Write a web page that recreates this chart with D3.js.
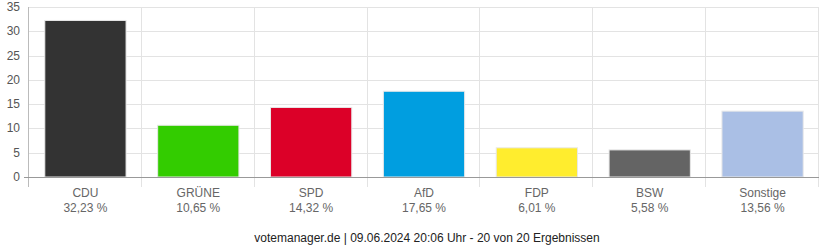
<!DOCTYPE html>
<html>
<head>
<meta charset="utf-8">
<script src="https://cdn.jsdelivr.net/npm/d3@7"></script>
<style>
  body { margin: 0; background: #fff; }
  text { font-family: "Liberation Sans", Arial, sans-serif; font-size: 12px; }
</style>
</head>
<body>
<div id="graph"></div>
<script>
"use strict"

var parties = ["CDU", "GRÜNE", "SPD", "AfD", "FDP", "BSW", "Sonstige"]
var shares = [32.23, 10.65, 14.32, 17.65, 6.01, 5.58, 13.56]
var colors = ["#333333", "#33cc00", "#dc0028", "#009ee0", "#ffed2e", "#646464", "#aabfe5"]
var yTicks = [0, 5, 10, 15, 20, 25, 30, 35]
var footer = "votemanager.de | 09.06.2024 20:06 Uhr - 20 von 20 Ergebnissen"

var width = 822, height = 250
var margin = {top: 7, left: 29, right: 3, bottom: 73}

main()

function main() {
    let svg = d3.select("#graph").append("svg")
        .attr("width", width).attr("height", height)

    let x = d3.scaleBand().domain(parties).range([margin.left, width - margin.right]).padding(0)
    let y = d3.scaleLinear().domain([0, 35]).range([height - margin.bottom, margin.top])
    let bw = x.bandwidth()

    // horizontal grid
    svg.selectAll(".hgrid").data(yTicks).enter().append("line")
        .attr("x1", margin.left).attr("x2", width - margin.right)
        .attr("y1", d => Math.round(y(d)) + 0.5).attr("y2", d => Math.round(y(d)) + 0.5)
        .attr("stroke", "#e3e3e3")

    // vertical grid at band edges, running down past the axis
    let edges = parties.map(p => x(p)).concat([width - margin.right])
    svg.selectAll(".vgrid").data(edges).enter().append("line")
        .attr("x1", d => Math.round(d) - 0.5).attr("x2", d => Math.round(d) - 0.5)
        .attr("y1", margin.top).attr("y2", y(0) + 10)
        .attr("stroke", (d, i) => i == 0 ? "#bbbbbb" : "#e3e3e3")

    svg.selectAll(".bar").data(parties).enter().append("rect")
        .attr("x", d => x(d) + bw * 0.14)
        .attr("width", bw * 0.72)
        .attr("y", (d, i) => y(shares[i]))
        .attr("height", (d, i) => y(0) - y(shares[i]))
        .attr("fill", (d, i) => colors[i])
        .attr("stroke", "#e8e8e8")
        .attr("stroke-width", 1)

    // x axis line
    svg.append("line")
        .attr("x1", margin.left - 5).attr("x2", width - margin.right)
        .attr("y1", Math.round(y(0)) + 0.5).attr("y2", Math.round(y(0)) + 0.5)
        .attr("stroke", "#999999")

    svg.selectAll(".ylab").data(yTicks).enter().append("text")
        .attr("x", 20).attr("y", d => y(d) + 4)
        .attr("text-anchor", "end").attr("fill", "#555")
        .text(d => d)

    svg.selectAll(".xlab").data(parties).enter().append("text")
        .attr("x", d => x(d) + bw / 2).attr("y", y(0) + 20)
        .attr("text-anchor", "middle").attr("fill", "#666")
        .text(d => d)

    svg.selectAll(".xval").data(parties).enter().append("text")
        .attr("x", d => x(d) + bw / 2).attr("y", y(0) + 35)
        .attr("text-anchor", "middle").attr("fill", "#666")
        .text((d, i) => shares[i].toFixed(2).replace(".", ",") + " %")

    svg.append("text")
        .attr("x", 427).attr("y", 242)
        .attr("text-anchor", "middle").attr("fill", "#222")
        .text(footer)
}
</script>
</body>
</html>
